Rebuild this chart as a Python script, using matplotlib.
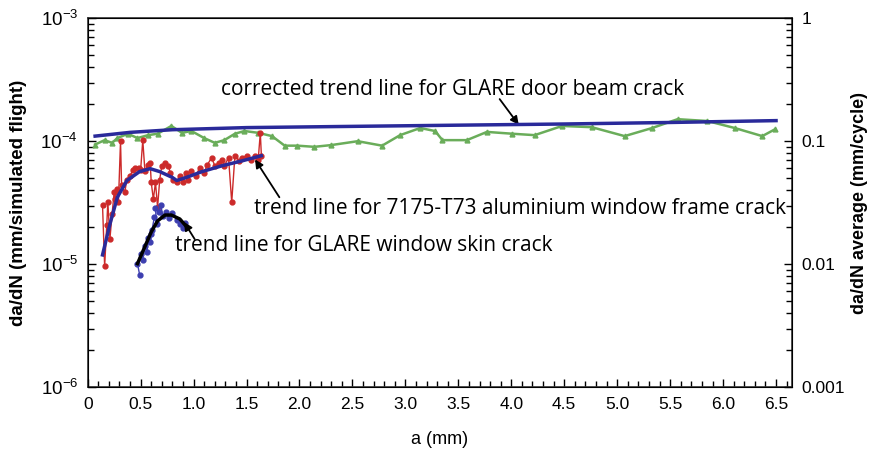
import matplotlib
matplotlib.use("Agg")
import matplotlib.pyplot as plt
from matplotlib.ticker import FixedLocator, MultipleLocator, FixedFormatter, LogLocator, NullFormatter

plt.rcParams['font.family'] = ['Liberation Sans', 'DejaVu Sans']
plt.rcParams['mathtext.default'] = 'regular'

# ---- data ----
# GLARE door beam crack (green, triangles)
door_a = [0.07, 0.16, 0.23, 0.28, 0.38, 0.47, 0.57, 0.66, 0.79, 0.89, 0.98, 1.10, 1.20, 1.29,
          1.39, 1.48, 1.61, 1.74, 1.86, 1.98, 2.14, 2.30, 2.55, 2.78, 2.95, 3.14, 3.28, 3.35,
          3.58, 3.77, 4.01, 4.22, 4.48, 4.76, 5.07, 5.33, 5.57, 5.85, 6.11, 6.37, 6.49]
door_v = [0.94e-4, 1.02e-4, 0.97e-4, 1.06e-4, 1.15e-4, 1.06e-4, 1.12e-4, 1.15e-4, 1.33e-4, 1.17e-4,
          1.21e-4, 1.06e-4, 0.97e-4, 1.02e-4, 1.15e-4, 1.21e-4, 1.17e-4, 1.10e-4, 0.92e-4, 0.92e-4,
          0.90e-4, 0.93e-4, 1.00e-4, 0.92e-4, 1.12e-4, 1.28e-4, 1.21e-4, 1.02e-4, 1.02e-4, 1.19e-4,
          1.15e-4, 1.12e-4, 1.33e-4, 1.30e-4, 1.10e-4, 1.28e-4, 1.51e-4, 1.46e-4, 1.28e-4, 1.10e-4,
          1.25e-4]
door_trend_a = [0.07, 0.4, 0.8, 1.5, 2.5, 3.5, 4.5, 5.5, 6.5]
door_trend_v = [1.10e-4, 1.18e-4, 1.24e-4, 1.29e-4, 1.32e-4, 1.35e-4, 1.38e-4, 1.42e-4, 1.47e-4]

# 7175-T73 aluminium window frame crack (red, circles)
frame_a = [0.14, 0.16, 0.18, 0.19, 0.21, 0.23, 0.25, 0.26, 0.28, 0.29, 0.31, 0.32, 0.35, 0.37,
           0.40, 0.43, 0.45, 0.48, 0.50, 0.52, 0.54, 0.57, 0.59, 0.60, 0.62, 0.64, 0.66, 0.68,
           0.70, 0.73, 0.76, 0.78, 0.81, 0.84, 0.87, 0.90, 0.93, 0.95, 0.98, 1.02, 1.06, 1.10,
           1.13, 1.17, 1.20, 1.24, 1.27, 1.29, 1.33, 1.36, 1.39, 1.43, 1.46, 1.50, 1.54, 1.58,
           1.61, 1.63, 1.64]
frame_v = [3.02e-5, 0.96e-5, 2.08e-5, 3.19e-5, 1.61e-5, 2.55e-5, 3.84e-5, 3.37e-5, 4.06e-5, 3.19e-5,
           1.00e-4, 4.37e-5, 3.84e-5, 4.88e-5, 5.26e-5, 5.87e-5, 6.09e-5, 6.09e-5, 5.87e-5, 1.02e-4,
           5.77e-5, 6.44e-5, 6.69e-5, 4.62e-5, 3.37e-5, 4.62e-5, 2.90e-5, 4.88e-5, 6.32e-5, 6.69e-5,
           6.32e-5, 5.56e-5, 4.88e-5, 4.62e-5, 5.26e-5, 4.62e-5, 5.56e-5, 4.80e-5, 5.77e-5, 5.26e-5,
           6.09e-5, 5.56e-5, 6.44e-5, 7.34e-5, 6.32e-5, 6.69e-5, 7.08e-5, 6.32e-5, 7.34e-5, 3.19e-5,
           7.62e-5, 6.93e-5, 7.34e-5, 7.62e-5, 7.08e-5, 7.62e-5, 7.08e-5, 1.17e-4, 7.62e-5]
frame_trend_a = [0.14, 0.21, 0.28, 0.37, 0.49, 0.59, 0.68, 0.80, 0.84, 0.93, 1.08, 1.27, 1.46, 1.64]
frame_trend_v = [1.19e-5, 2.12e-5, 3.50e-5, 4.79e-5, 5.66e-5, 5.98e-5, 5.66e-5, 5.07e-5, 4.79e-5,
                 5.07e-5, 5.66e-5, 6.32e-5, 6.93e-5, 7.62e-5]

# GLARE window skin crack (blue, circles)
skin_a = [0.49, 0.47, 0.50, 0.52, 0.54, 0.56, 0.57, 0.59, 0.61, 0.60, 0.63, 0.65, 0.64, 0.67,
          0.69, 0.71, 0.74, 0.77, 0.80, 0.84, 0.87, 0.90, 0.92]
skin_v = [8.24e-6, 1.01e-5, 1.22e-5, 1.09e-5, 1.41e-5, 1.26e-5, 1.64e-5, 1.52e-5, 1.90e-5, 1.76e-5,
          2.42e-5, 2.12e-5, 2.85e-5, 2.65e-5, 3.02e-5, 2.46e-5, 2.65e-5, 2.37e-5, 2.60e-5, 2.29e-5,
          2.12e-5, 1.97e-5, 2.16e-5]
skin_trend_a = [0.47, 0.54, 0.60, 0.66, 0.73, 0.79, 0.87, 0.92]
skin_trend_v = [1.01e-5, 1.39e-5, 1.83e-5, 2.25e-5, 2.51e-5, 2.51e-5, 2.33e-5, 2.08e-5]

x_ticks = [0, 0.5, 1.0, 1.5, 2.0, 2.5, 3.0, 3.5, 4.0, 4.5, 5.0, 5.5, 6.0, 6.5]
x_labels = ['0', '0.5', '1.0', '1.5', '2.0', '2.5', '3.0', '3.5', '4.0', '4.5', '5.0', '5.5', '6.0', '6.5']
y_ticks = [1e-6, 1e-5, 1e-4, 1e-3]
y_labels = [r'$10^{-6}$', r'$10^{-5}$', r'$10^{-4}$', r'$10^{-3}$']
y2_ticks = [1e-3, 1e-2, 1e-1, 1]
y2_labels = ['0.001', '0.01', '0.1', '1']

# ---- figure ----
fig = plt.figure(figsize=(8.77, 4.55), dpi=100)
ax = fig.add_axes([0.100, 0.149, 0.803, 0.811])

green = '#6aad5a'
red = '#cc2a2a'
blue_pts = '#3d3fb0'
navy = '#2a2a9a'

ax.plot(door_a, door_v, color=green, lw=1.8, marker='^', ms=3.5, zorder=2)
ax.plot(frame_a, frame_v, color=red, lw=1.0, marker='o', ms=3.5, zorder=3)
ax.plot(skin_a, skin_v, color=blue_pts, lw=1.0, marker='o', ms=3.5, zorder=3)
ax.plot(door_trend_a, door_trend_v, color=navy, lw=2.5, zorder=4)
ax.plot(frame_trend_a, frame_trend_v, color=navy, lw=2.5, zorder=4)
ax.plot(skin_trend_a, skin_trend_v, color='black', lw=2.5, zorder=4)

ax.set_yscale('log')
ax.set_xlim(0, 6.65)
ax.set_ylim(1e-6, 1e-3)
ax.xaxis.set_major_locator(FixedLocator(x_ticks))
ax.xaxis.set_major_formatter(FixedFormatter(x_labels))
ax.xaxis.set_minor_locator(MultipleLocator(0.1))
ax.yaxis.set_major_locator(FixedLocator(y_ticks))
ax.yaxis.set_major_formatter(FixedFormatter(y_labels))
ax.yaxis.set_minor_locator(LogLocator(base=10, subs=range(2, 10), numticks=20))
ax.yaxis.set_minor_formatter(NullFormatter())
ax.tick_params(which='both', direction='in', top=False, right=False, width=1.0)
ax.tick_params(which='major', length=6, labelsize=13.5, pad=7)
ax.tick_params(which='minor', length=4)
ax.tick_params(axis='x', labelsize=12.5)
for s in ax.spines.values():
    s.set_linewidth(1.2)
    s.set_color('#333333')

ax2 = ax.twinx()
ax2.set_yscale('log')
ax2.set_ylim(1e-3, 1)
ax2.yaxis.set_major_locator(FixedLocator(y2_ticks))
ax2.yaxis.set_major_formatter(FixedFormatter(y2_labels))
ax2.yaxis.set_minor_locator(LogLocator(base=10, subs=range(2, 10), numticks=20))
ax2.yaxis.set_minor_formatter(NullFormatter())
ax2.tick_params(which='both', direction='in', width=1.0)
ax2.tick_params(which='major', length=6, labelsize=12.5, pad=7)
ax2.tick_params(which='minor', length=4)

ax.set_xlabel('a (mm)', fontsize=13, labelpad=14)
ax.set_ylabel('da/dN (mm/simulated flight)', fontsize=13.5, fontweight='bold', labelpad=10)
ax2.set_ylabel('da/dN average (mm/cycle)', fontsize=13, fontweight='bold', labelpad=4)

afont = dict(fontsize=15, family=['Open Sans', 'DejaVu Sans'])
aprops = dict(arrowstyle='-|>', color='black', lw=1.3, shrinkA=0, shrinkB=0, mutation_scale=12)

ax.text(1.26, 2.65e-4, 'corrected trend line for GLARE door beam crack', ha='left', va='center', **afont)
ax.annotate('', xy=(4.07, 1.36e-4), xytext=(3.89, 2.2e-4), arrowprops=aprops)

ax.text(1.57, 2.85e-5, 'trend line for 7175-T73 aluminium window frame crack', ha='left', va='center', **afont)
ax.annotate('', xy=(1.58, 7.1e-5), xytext=(1.81, 3.5e-5), arrowprops=aprops)

ax.text(0.82, 1.43e-5, 'trend line for GLARE window skin crack', ha='left', va='center', **afont)
ax.annotate('', xy=(0.91, 2.2e-5), xytext=(1.01, 1.6e-5), arrowprops=aprops)

fig.savefig('out.png', dpi=100)
